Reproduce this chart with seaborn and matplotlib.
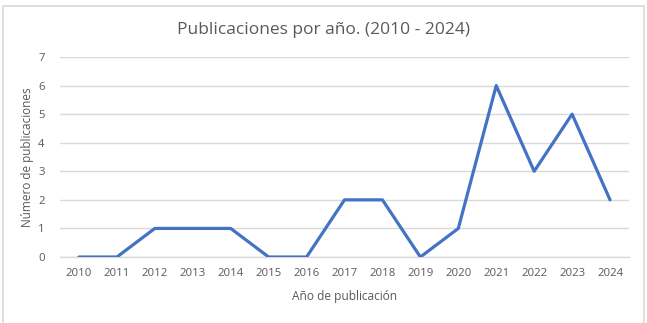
import matplotlib
matplotlib.use("Agg")
import matplotlib.pyplot as plt
from matplotlib.patches import Rectangle
import seaborn as sns
import pandas as pd

years = ["2010", "2011", "2012", "2013", "2014", "2015", "2016", "2017",
         "2018", "2019", "2020", "2021", "2022", "2023", "2024"]
counts = [0, 0, 1, 1, 1, 0, 0, 2, 2, 0, 1, 6, 3, 5, 2]
title = "Publicaciones por año. (2010 - 2024)"
xlabel = "Año de publicación"
ylabel = "Número de publicaciones"

df = pd.DataFrame({"year": years, "count": counts})
df["pos"] = range(len(years))

sns.set_theme(style="white")
plt.rcParams["font.family"] = ["Open Sans", "DejaVu Sans"]

fig = plt.figure(figsize=(6.47, 3.23), dpi=100)
W, H = 647, 323
ax = fig.add_axes([60 / W, 1 - 257 / H, (629 - 60) / W, (257 - 57) / H])

# chart border
fig.patches.append(Rectangle((3 / W, -0.01), (644 - 3) / W, 1 - 6 / H + 0.01,
                             transform=fig.transFigure, fill=False,
                             edgecolor="#d9d9d9", linewidth=1.2))

sns.lineplot(data=df, x="pos", y="count", ax=ax, color="#4472C4",
             linewidth=2.3, zorder=3)

ax.set_xlim(-0.5, len(years) - 0.5)
ax.set_ylim(0, 7)
ax.set_xticks(range(len(years)))
ax.set_xticklabels(years)
ax.set_yticks(range(0, 8))
ax.yaxis.grid(True, color="#d9d9d9", linewidth=1)
ax.xaxis.grid(False)
for s in ["top", "right", "left"]:
    ax.spines[s].set_visible(False)
ax.spines["bottom"].set_color("#d9d9d9")
ax.spines["bottom"].set_linewidth(1)
ax.tick_params(axis="both", length=0, labelsize=8.2, colors="#595959")
ax.tick_params(axis="x", pad=8)
ax.tick_params(axis="y", pad=11)

ax.set_xlabel(xlabel, fontsize=8.6, color="#595959", labelpad=8)
ax.set_ylabel(ylabel, fontsize=8.5, color="#595959", labelpad=3)
fig.text(0.5, 1 - 30 / H, title, ha="center", va="center",
         fontsize=12.5, color="#595959")

fig.savefig("out.png", dpi=100, facecolor="white")
